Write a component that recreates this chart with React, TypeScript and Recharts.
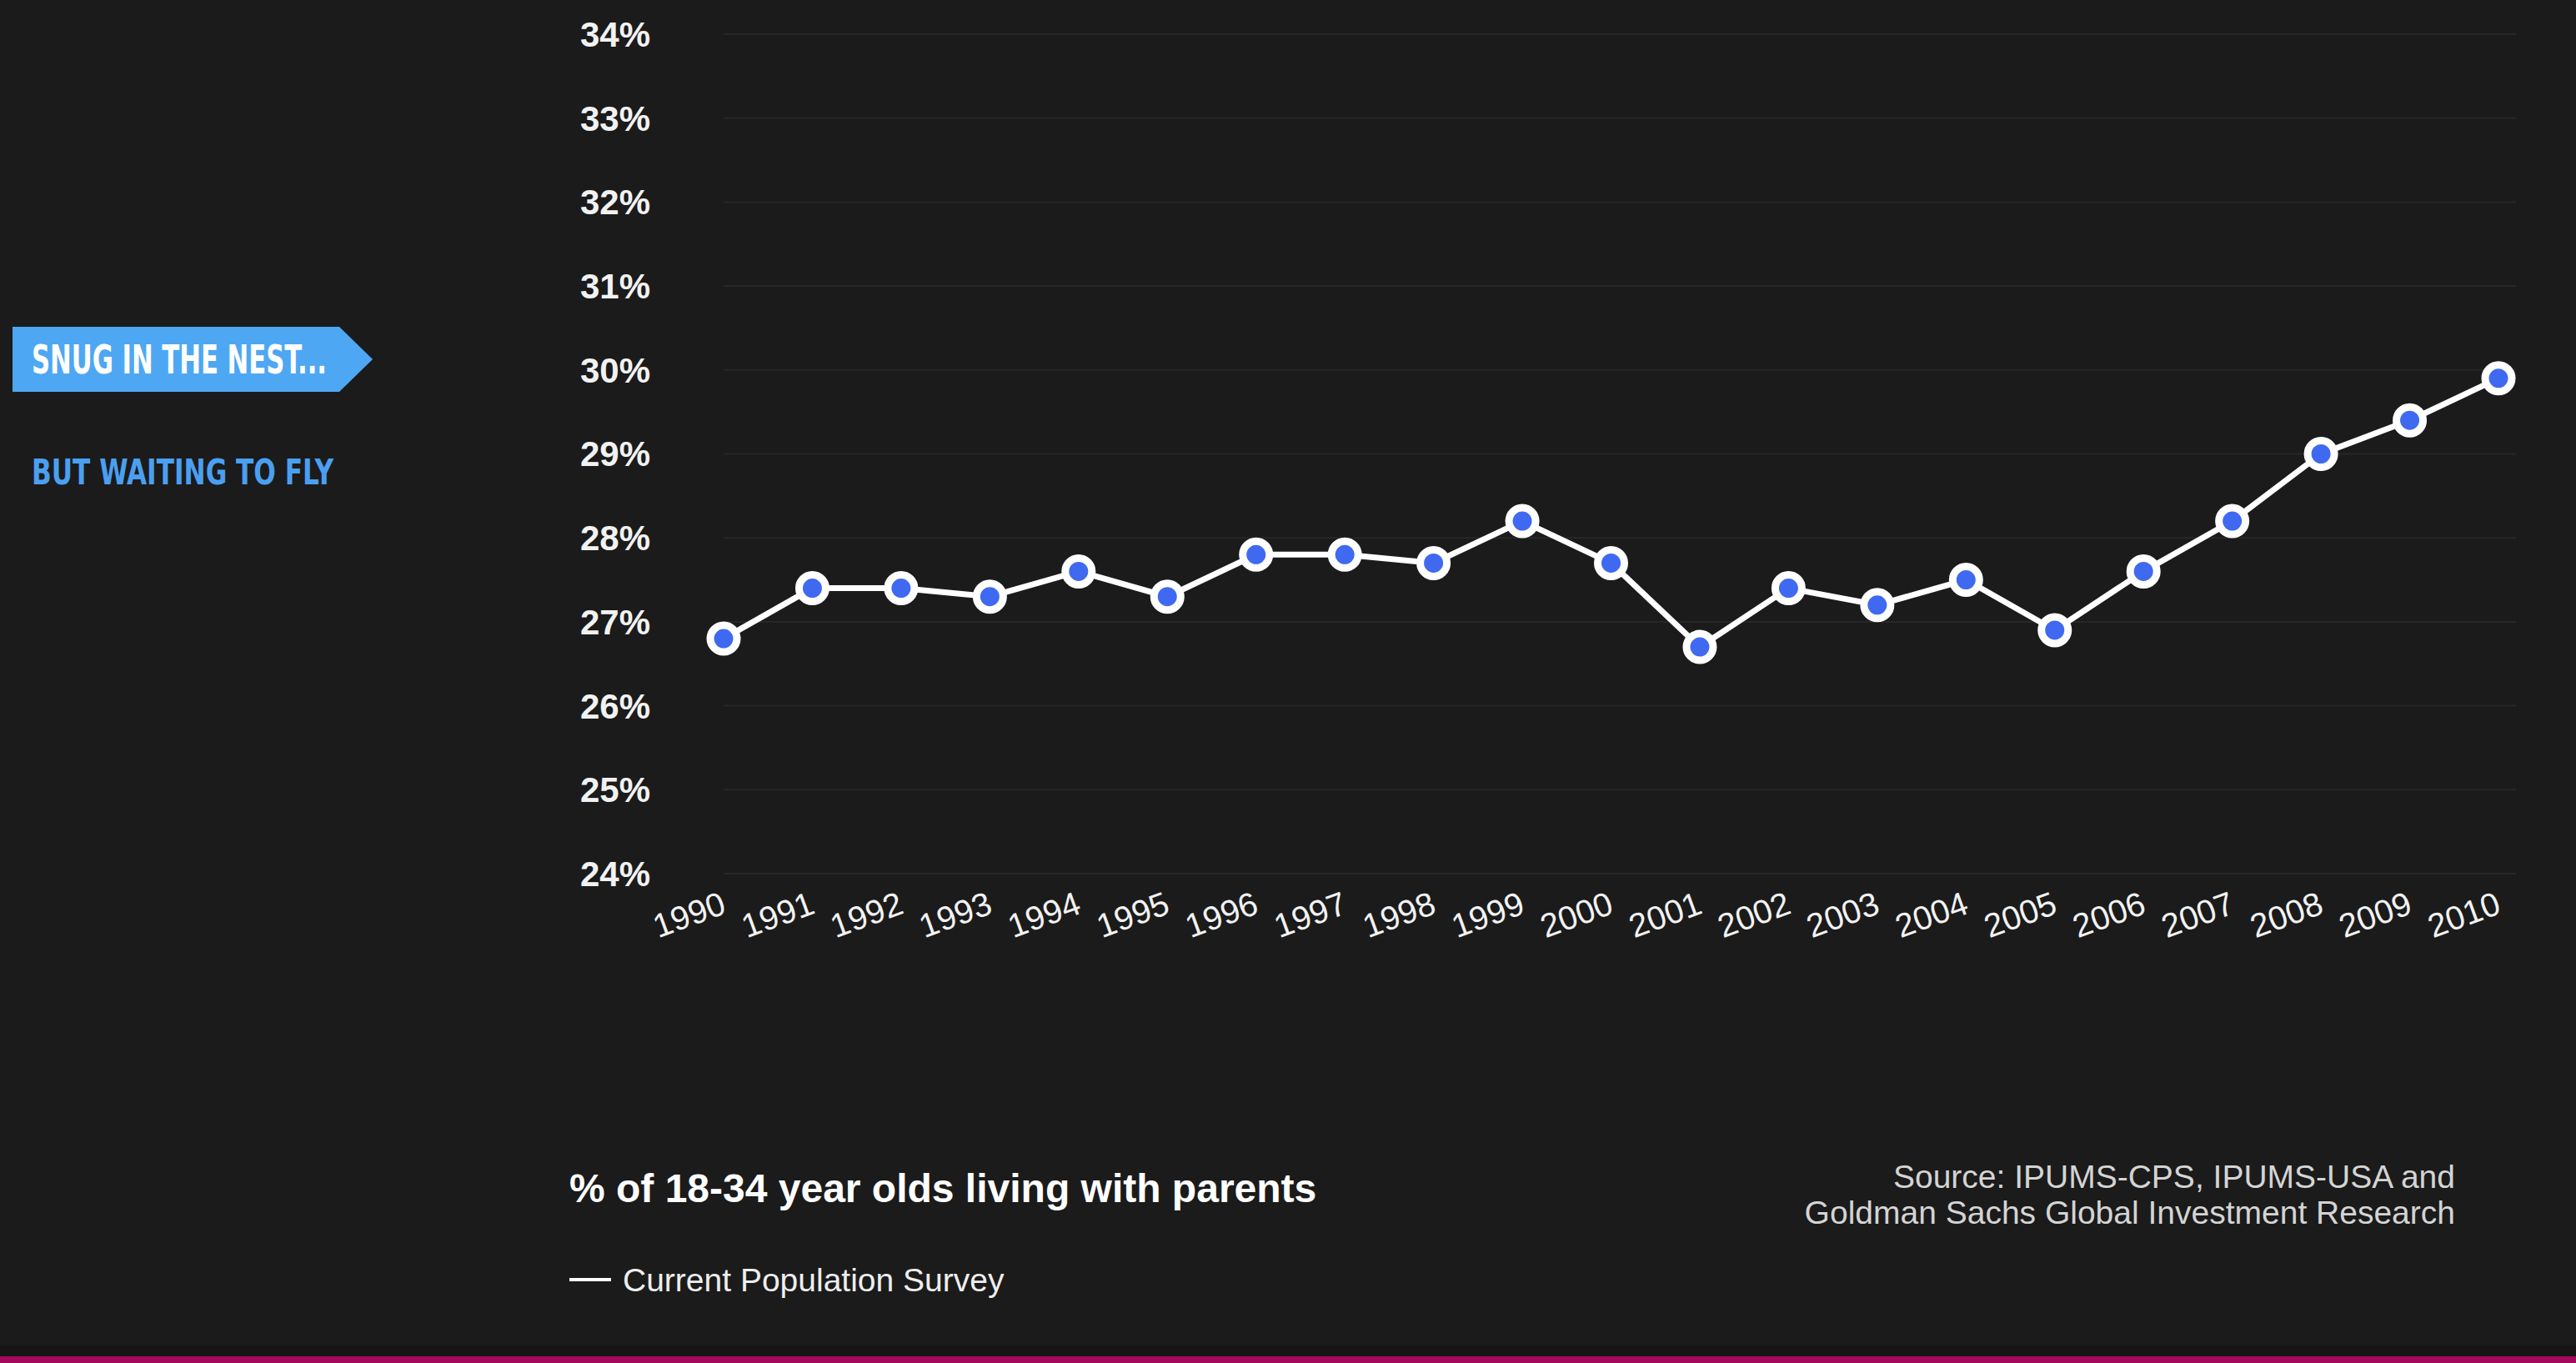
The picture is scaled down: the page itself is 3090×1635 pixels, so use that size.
import React from 'react';
import { LineChart, Line, XAxis, YAxis, CartesianGrid } from 'recharts';

const years = [
  1990, 1991, 1992, 1993, 1994, 1995, 1996, 1997, 1998, 1999, 2000,
  2001, 2002, 2003, 2004, 2005, 2006, 2007, 2008, 2009, 2010,
];

const livingWithParents = [
  26.8, 27.4, 27.4, 27.3, 27.6, 27.3, 27.8, 27.8, 27.7, 28.2, 27.7,
  26.7, 27.4, 27.2, 27.5, 26.9, 27.6, 28.2, 29.0, 29.4, 29.9,
];

const yTicks = [24, 25, 26, 27, 28, 29, 30, 31, 32, 33, 34];

const data = years.map((year, i) => ({ year, value: livingWithParents[i] }));

const BG = '#1b1b1b';
const FONT = '"Liberation Sans", Arial, Helvetica, sans-serif';
const NARROW = '"Liberation Sans Narrow", "DejaVu Sans Condensed", "Liberation Sans", sans-serif';

function YearTick(props: any) {
  const { x, y, payload } = props;
  const ax = x + 5;
  const ay = y + 47;
  return (
    <text
      x={ax}
      y={ay}
      textAnchor="end"
      fill="#f2f2f2"
      fontSize={40}
      fontFamily={FONT}
      transform={`rotate(-20, ${ax}, ${ay})`}
    >
      {payload.value}
    </text>
  );
}

export default function App() {
  return (
    <div
      style={{
        position: 'absolute',
        left: 0,
        top: 0,
        width: 3090,
        height: 1635,
        background: BG,
        overflow: 'hidden',
      }}
    >
      <div style={{ position: 'absolute', left: 0, top: 0 }}>
        <LineChart
          width={3090}
          height={1180}
          data={data}
          margin={{ top: 41, right: 72, left: 0, bottom: 32 }}
        >
          <CartesianGrid vertical={false} stroke="#272727" strokeWidth={2} />
          <XAxis
            dataKey="year"
            type="number"
            domain={[1990, 2010]}
            ticks={years}
            interval={0}
            padding={{ left: 0, right: 21 }}
            axisLine={false}
            tickLine={false}
            tickSize={0}
            tickMargin={0}
            height={100}
            tick={<YearTick />}
          />
          <YAxis
            domain={[24, 34]}
            ticks={yTicks}
            interval={0}
            width={868}
            axisLine={false}
            tickLine={false}
            tickSize={0}
            tickMargin={88}
            tickFormatter={(v) => `${v}%`}
            tick={{ fill: '#f2f2f2', fontSize: 42, fontWeight: 700, fontFamily: FONT }}
          />
          <Line
            type="linear"
            dataKey="value"
            stroke="#ffffff"
            strokeWidth={7}
            dot={{ r: 16, fill: '#4069f2', stroke: '#ffffff', strokeWidth: 9 }}
            activeDot={false}
            isAnimationActive={false}
          />
        </LineChart>
      </div>

      <svg
        width={3090}
        height={1635}
        style={{ position: 'absolute', left: 0, top: 0, pointerEvents: 'none' }}
      >
        {/* side navigation */}
        <polygon points="15,392 407,392 447,431 407,470 15,470" fill="#4ea7f2" />
        <text
          x={38}
          y={448}
          fill="#ffffff"
          fontSize={48}
          fontWeight={700}
          fontFamily={NARROW}
          textLength={354}
          lengthAdjust="spacingAndGlyphs"
        >
          SNUG IN THE NEST...
        </text>
        <text
          x={38}
          y={581}
          fill="#4b9ff0"
          fontSize={43}
          fontWeight={700}
          fontFamily={NARROW}
          textLength={362}
          lengthAdjust="spacingAndGlyphs"
        >
          BUT WAITING TO FLY
        </text>

        {/* title and legend */}
        <text x={683} y={1442} fill="#ffffff" fontSize={48} fontWeight={700} fontFamily={FONT}>
          % of 18-34 year olds living with parents
        </text>
        <line x1={683} x2={733} y1={1535} y2={1535} stroke="#ffffff" strokeWidth={4} />
        <text x={747} y={1549} fill="#eeeeee" fontSize={39} fontFamily={FONT}>
          Current Population Survey
        </text>

        {/* source */}
        <text x={2945} y={1425} fill="#d4d4d4" fontSize={39} fontFamily={FONT} textAnchor="end">
          Source: IPUMS-CPS, IPUMS-USA and
        </text>
        <text x={2945} y={1468} fill="#d4d4d4" fontSize={39} fontFamily={FONT} textAnchor="end">
          Goldman Sachs Global Investment Research
        </text>

        {/* bottom stripe */}
        <rect x={0} y={1614} width={3090} height={13} fill="#151515" />
        <rect x={0} y={1627} width={3090} height={8} fill="#a3085c" />
      </svg>
    </div>
  );
}
